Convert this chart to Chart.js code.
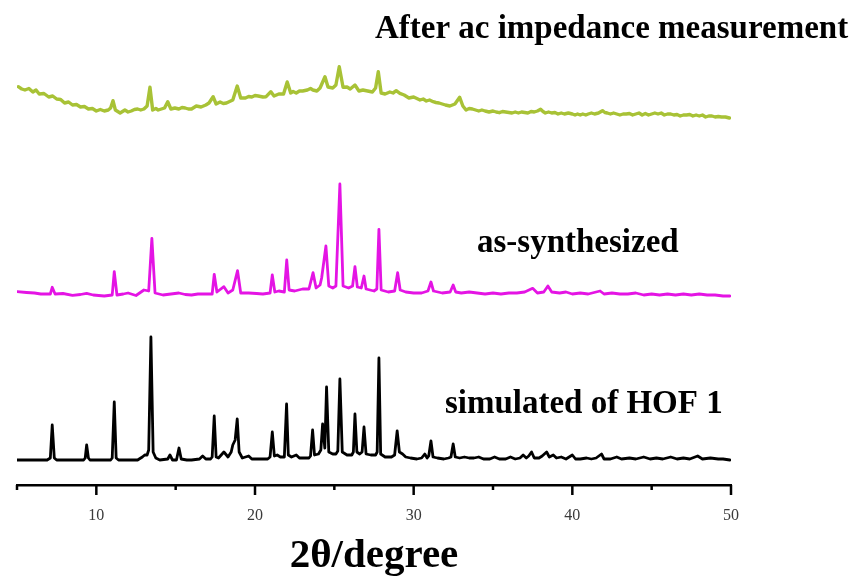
<!DOCTYPE html>
<html>
<head>
<meta charset="utf-8">
<script src="https://cdn.jsdelivr.net/npm/chart.js@4/dist/chart.umd.min.js"></script>
<style>
html,body{margin:0;padding:0;background:#fff;}
#wrap{width:858px;height:582px;}
</style>
</head>
<body>
<div id="wrap"><canvas id="c" width="858" height="582"></canvas></div>
<script>
// ---- data (2θ in degrees, intensity in arbitrary units above each trace's baseline)
const xTicks = [10, 20, 30, 40, 50];
const xMinorTicks = [5, 15, 25, 35, 45];

const simTheta = [5.0,6.9,7.1,7.22,7.35,7.5,9.2,9.3,9.39,9.5,9.6,10.9,11.0,11.13,11.25,11.4,12.6,12.9,13.05,13.2,13.3,13.44,13.58,13.75,14.0,14.5,14.64,14.8,15.05,15.21,15.35,15.7,16.0,16.5,16.7,16.9,17.2,17.3,17.43,17.55,17.7,18.04,18.3,18.5,18.6,18.75,18.88,19.0,19.2,19.6,19.8,20.8,20.95,21.09,21.22,21.4,21.6,21.85,21.99,22.1,22.3,22.6,22.8,23.4,23.5,23.63,23.75,24.0,24.15,24.26,24.4,24.51,24.65,24.9,25.1,25.22,25.35,25.5,25.8,26.1,26.2,26.3,26.42,26.6,26.75,26.87,27.0,27.3,27.6,27.7,27.81,27.92,28.2,28.6,28.8,28.96,29.1,29.3,29.5,29.8,30.2,30.5,30.7,30.85,30.95,31.09,31.22,31.5,31.9,32.2,32.35,32.49,32.62,32.9,33.2,33.5,33.8,34.1,34.4,34.8,35.1,35.4,35.8,36.1,36.4,36.7,36.9,37.1,37.25,37.43,37.6,37.9,38.1,38.38,38.55,38.8,39.0,39.3,39.6,40.0,40.2,40.5,40.9,41.2,41.5,41.84,42.0,42.4,42.8,43.1,43.6,44.0,44.5,44.9,45.3,45.7,46.2,46.6,47.0,47.4,47.9,48.2,48.7,49.2,49.5,49.93];
const simInt   = [0,0,2,35,2,0,0,2,15,2,0,0,2,58,2,0,0,3,5,5,10,123,8,2,0,1,5,0,0,12,1,0,0,1,4,1,1,3,44,3,2,8,3,8,15,20,41,8,2,4,1,1,3,28,4,5,3,3,56,5,3,5,2,2,4,30,5,6,10,36,12,73,8,6,6,9,81,8,5,5,8,46,8,6,8,33,6,5,5,8,102,6,3,3,5,29,8,6,3,2,1,2,6,2,4,19,3,2,1,2,3,16,3,2,3,2,2,3,1,1,3,1,1,3,1,2,5,2,4,8,2,2,4,8,3,5,2,3,1,5,1,1,2,1,2,6,1,1,3,1,2,1,3,1,2,1,3,1,2,1,4,1,2,1,1,0];

const asTheta = [5.0,5.6,6.1,6.5,7.1,7.22,7.4,7.9,8.5,9.0,9.39,9.8,10.5,11.0,11.13,11.3,11.7,12.0,12.5,13.0,13.3,13.5,13.7,14.2,14.7,15.2,15.6,16.0,16.4,16.8,17.3,17.43,17.6,18.04,18.3,18.6,18.9,19.1,19.6,20.1,20.5,20.95,21.09,21.25,21.5,21.85,22.0,22.15,22.5,23.0,23.4,23.66,23.85,24.1,24.2,24.47,24.65,24.9,25.1,25.35,25.55,25.9,26.15,26.3,26.45,26.7,26.87,27.0,27.5,27.68,27.81,27.95,28.4,28.8,28.99,29.15,29.5,30.0,30.5,30.9,31.09,31.25,31.8,32.3,32.49,32.65,33.0,33.5,34.0,34.5,35.0,35.5,36.0,36.5,37.0,37.5,37.8,38.2,38.46,38.7,39.2,39.6,40.0,40.5,41.0,41.75,42.0,42.5,43.0,43.5,44.0,44.5,45.0,45.5,46.0,46.5,47.0,47.5,48.0,48.5,49.0,49.5,49.93];
const asInt   = [4.3,3.5,3,2,2,8.7,2,2.5,0.7,1.5,2.7,1,0,1,24.3,1,2,3,0.5,6,5,57.7,3,1,2,3,1.5,1,2,2,2,21.7,4,9.3,3,6,25.3,3,3,2.5,2,3,21,4,5,4,36,6,5,7,7,23.3,8,11,18,50,10,8,10,112,10,8,10,29.3,9,8,20,7,5,7,66.7,6,4,5,23.3,6,4,3,3,5,14,5,3,4,11,4,3,4,3,2,3,2,3,3,4,7.7,3,4,10,4,3,4,2,3,2,5,2,3,2,2,3,1,2,1,2,1,2,1,2,1,1,0,0];

const acTheta = [5.08,5.3,5.5,5.75,6.0,6.2,6.4,6.7,7.0,7.25,7.5,7.75,8.0,8.25,8.5,8.75,9.0,9.25,9.5,9.75,10.0,10.25,10.5,10.75,10.9,11.05,11.2,11.5,11.8,12.0,12.2,12.4,12.6,12.8,13.0,13.2,13.38,13.55,13.75,13.9,14.1,14.3,14.5,14.7,14.95,15.2,15.4,15.6,15.8,16.0,16.3,16.6,16.9,17.1,17.36,17.55,17.8,18.0,18.2,18.4,18.6,18.88,19.1,19.4,19.6,19.8,20.0,20.2,20.5,20.7,21.0,21.2,21.5,21.8,22.03,22.25,22.4,22.6,22.8,23.0,23.3,23.5,23.65,23.9,24.1,24.41,24.6,24.9,25.1,25.31,25.55,25.8,26.0,26.3,26.55,26.8,27.1,27.4,27.6,27.77,27.95,28.2,28.5,28.7,28.9,29.13,29.4,29.7,30.0,30.2,30.4,30.6,30.8,31.0,31.23,31.4,31.6,31.8,32.0,32.28,32.6,32.9,33.1,33.3,33.5,33.7,33.9,34.1,34.3,34.5,34.75,35.0,35.2,35.4,35.6,35.8,36.0,36.2,36.4,36.6,36.8,37.0,37.2,37.4,37.6,37.8,38.0,38.15,38.3,38.5,38.7,38.9,39.1,39.3,39.5,39.75,40.0,40.17,40.33,40.5,40.66,40.85,41.0,41.2,41.4,41.65,41.9,42.05,42.2,42.4,42.6,42.8,43.0,43.2,43.4,43.6,43.8,44.0,44.2,44.4,44.6,44.8,45.0,45.2,45.4,45.6,45.8,46.0,46.2,46.4,46.6,46.8,47.0,47.2,47.4,47.6,47.8,48.0,48.2,48.4,48.6,48.8,49.0,49.2,49.4,49.65,49.9];
const acInt   = [31.3,29,28,29.5,26,28,24,24.5,21,22,19,18.5,15,16,13,13.5,11,11.5,9,9.5,7,8.5,7,8,10,17.3,8,5,8,6,7,8.5,9,8,9,12,30.7,8,9.5,8,9,10,16.3,9,10,9,10.5,10,9,9,12,11,13,15,21.3,14,16,14.5,15,16.5,18,32,20,20,21.5,21,22.5,22,21,21.3,26.3,22,24,24,36,25,26.5,25,27,27,28,29.5,28,27,30,41.3,31,30,33,51.3,30.7,31,29,33,27,28,27,26,30,46.3,25,24,26,25,27.3,24.7,23,20,21,19.5,18,19,17,18,16.3,15.5,15,14,13,12,14,20.7,12,8,9.5,9,8,7,8,7,6,7,6,5.3,6.5,6,5.5,5,6,5,6,5.5,5,6.5,6,7,8.7,6.5,5,6,5,5.5,4,5,4,5,4,3,4,3,4,3,4,5,4,5,7.3,5.5,5,4,5,4,3,4,4,4.5,3,4,5,3,4.5,3,4,5,4,5,3,4,4,3,3.5,2,3,3,3.5,2,3,2,3,1,2,2,1,1.5,1,1,0];

// vertical stacking offsets of the three patterns
const offsets = {sim: 25, as: 189, ac: 367};

function pts(xs, ys, off) { return xs.map((x, i) => ({x: x, y: ys[i] + off})); }

const labelsPlugin = {
  id: 'traceLabels',
  afterDatasetsDraw(chart) {
    const {ctx, scales: {x, y}} = chart;
    ctx.save();
    ctx.fillStyle = '#000';
    ctx.font = 'bold 33px "Liberation Serif", "Times New Roman", serif';
    ctx.textAlign = 'left';
    ctx.textBaseline = 'alphabetic';
    const items = [
      ['After ac impedance measurement', 27.56, 447],
      ['as-synthesized', 33.99, 233],
      ['simulated of HOF 1', 31.97, 72]
    ];
    for (const [t, xv, yv] of items) ctx.fillText(t, x.getPixelForValue(xv), y.getPixelForValue(yv));
    // axis tick marks: major 10 px, minor 5 px
    ctx.strokeStyle = '#000';
    ctx.lineWidth = 2.5;
    ctx.lineCap = 'butt';
    const top = x.top;
    for (const v of xTicks) {
      const px = x.getPixelForValue(v);
      ctx.beginPath(); ctx.moveTo(px, top); ctx.lineTo(px, top + 10); ctx.stroke();
    }
    for (const v of xMinorTicks) {
      const px = x.getPixelForValue(v);
      ctx.beginPath(); ctx.moveTo(px, top); ctx.lineTo(px, top + 5); ctx.stroke();
    }
    ctx.restore();
  }
};

new Chart(document.getElementById('c'), {
  type: 'line',
  data: {
    datasets: [
      {label: 'simulated of HOF 1', data: pts(simTheta, simInt, offsets.sim), borderColor: '#000000', borderWidth: 2.8},
      {label: 'as-synthesized', data: pts(asTheta, asInt, offsets.as), borderColor: '#E414E4', borderWidth: 2.8},
      {label: 'After ac impedance measurement', data: pts(acTheta, acInt, offsets.ac), borderColor: '#A8C236', borderWidth: 3.4}
    ]
  },
  plugins: [labelsPlugin],
  options: {
    responsive: false,
    animation: false,
    devicePixelRatio: 1,
    layout: {padding: {left: 17, right: 127, top: 0, bottom: 0}},
    elements: {
      point: {radius: 0},
      line: {tension: 0, borderJoinStyle: 'round', borderCapStyle: 'round', fill: false}
    },
    plugins: {legend: {display: false}, tooltip: {enabled: false}},
    scales: {
      x: {
        type: 'linear',
        min: 5, max: 50,
        afterFit(scale) { scale.height = 97; },
        afterBuildTicks(scale) {
          scale.ticks = xMinorTicks.concat(xTicks).sort((a, b) => a - b).map(v => ({value: v}));
        },
        border: {display: true, color: '#000', width: 2.5},
        grid: {
          drawOnChartArea: false,
          drawTicks: true,
          tickLength: 10,
          tickColor: 'rgba(0,0,0,0)'
        },
        ticks: {
          autoSkip: false,
          maxRotation: 0,
          padding: 11,
          color: '#3a3a3a',
          font: {family: '"Liberation Serif", "Times New Roman", serif', size: 16},
          callback: (v) => xTicks.includes(v) ? String(v) : ''
        },
        title: {
          display: true,
          text: '2θ/degree',
          color: '#000',
          font: {family: '"Liberation Serif", "Times New Roman", serif', size: 41, weight: 'bold'},
          padding: {top: 0, bottom: 1}
        }
      },
      y: {
        type: 'linear',
        display: false,
        min: 0, max: 485
      }
    }
  }
});
</script>
</body>
</html>
